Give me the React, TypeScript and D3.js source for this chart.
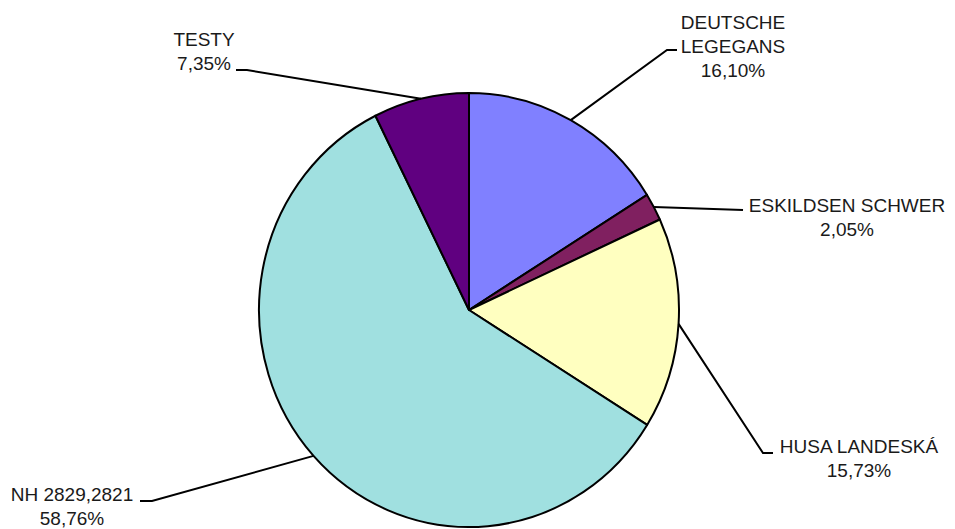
import React, { useEffect, useRef } from 'react';
import * as d3 from 'd3';

// Chart data
const categories = ['DEUTSCHE\nLEGEGANS', 'ESKILDSEN SCHWER', 'HUSA LANDESKÁ', 'NH 2829,2821', 'TESTY'];
const shares = [16.10, 2.05, 15.73, 58.76, 7.35];
const colors = ['#8080FF', '#802060', '#FFFFC0', '#A0E0E0', '#600080'];

// label placement: text centre, elbow of the leader, end of the leader
const labelPos = [
  { tx: 733, ty: 22, ex: 667, ey: 50, lx: 677, ly: 50 },
  { tx: 847, ty: 205, ex: 743, ey: 210, lx: 743, ly: 210 },
  { tx: 859, ty: 446, ex: 763, ey: 453, lx: 773, ly: 453 },
  { tx: 72, ty: 494, ex: 152, ey: 501, lx: 140, ly: 501 },
  { tx: 204, ty: 39, ex: 247, ey: 70, lx: 236, ly: 70 },
];

const PieChart = () => {
  const ref = useRef<SVGSVGElement | null>(null);

  useEffect(() => {
    const width = 955;
    const height = 529;
    const cx = 469;
    const cy = 310;
    const r = 210;
    const sy = 217 / 210;

    const svg = d3.select(ref.current);
    svg.selectAll('*').remove();
    svg.attr('width', width).attr('height', height);

    const data = categories.map((c, i) => ({ name: c, value: shares[i], color: colors[i] }));

    const pie = d3.pie<any>().sort(null).value(d => d.value);
    const arcs = pie(data);
    const arc = d3.arc<any>().innerRadius(0).outerRadius(r);
    const edge = d3.arc<any>().innerRadius(r).outerRadius(r);

    const g = svg.append('g')
      .attr('transform', `translate(${cx},${cy}) scale(1,${sy})`);

    g.selectAll('path')
      .data(arcs)
      .enter()
      .append('path')
      .attr('d', arc)
      .attr('fill', d => d.data.color)
      .attr('stroke', '#000')
      .attr('stroke-width', 2)
      .attr('stroke-linejoin', 'round')
      .attr('vector-effect', 'non-scaling-stroke');

    // leader lines
    svg.selectAll('.leader')
      .data(arcs)
      .enter()
      .append('polyline')
      .attr('class', 'leader')
      .attr('points', (d, i) => {
        const [px, py] = edge.centroid(d);
        const p = labelPos[i];
        return `${cx + px},${cy + py * sy} ${p.ex},${p.ey} ${p.lx},${p.ly}`;
      })
      .attr('fill', 'none')
      .attr('stroke', '#000')
      .attr('stroke-width', 2);

    // labels
    const fmt = (v: number) => v.toFixed(2).replace('.', ',') + '%';
    arcs.forEach((d, i) => {
      const p = labelPos[i];
      const lines = [...d.data.name.split('\n'), fmt(d.data.value)];
      const t = svg.append('text')
        .attr('text-anchor', 'middle')
        .attr('font-family', 'Arial, "Liberation Sans", sans-serif')
        .attr('font-size', 19)
        .attr('fill', '#1a1a1a');
      lines.forEach((ln, k) => {
        t.append('tspan')
          .attr('x', p.tx)
          .attr('y', p.ty + k * 24 + 7)
          .text(ln);
      });
    });
  }, []);

  return <svg ref={ref} style={{ position: 'absolute', left: 0, top: 0, background: '#fff' }} />;
};

export default function App() {
  return <PieChart />;
}
